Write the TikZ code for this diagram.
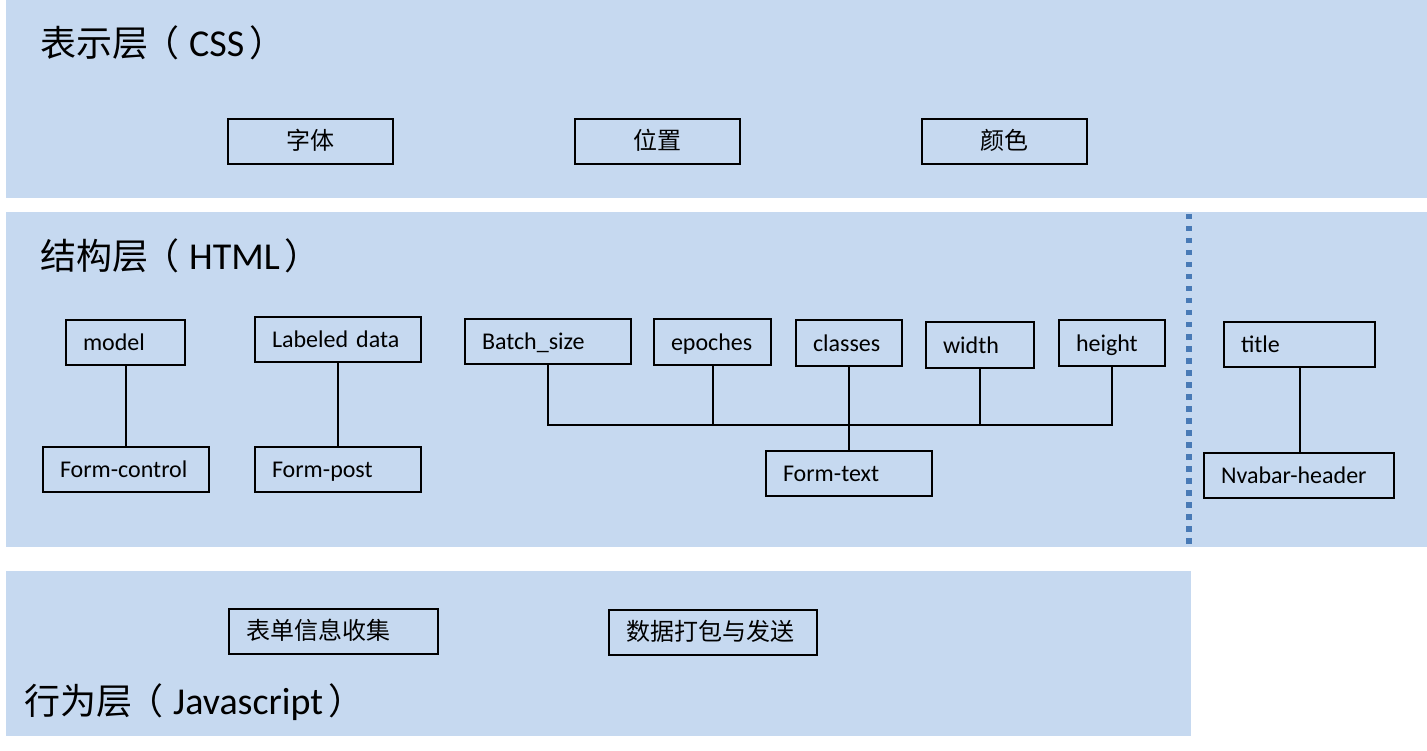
\documentclass[tikz,border=0pt]{standalone}
\usepackage{fontspec}
\setmainfont{Carlito}
\newfontfamily\cjk{Noto Sans CJK SC}
\definecolor{panelblue}{RGB}{198,217,240}
\definecolor{dotblue}{RGB}{72,122,182}
\newcommand{\lpar}{\hspace{-5pt}{\cjk （}\hspace{10pt}}
\newcommand{\rpar}{\hspace{5pt}{\cjk ）}}
\begin{document}
\begin{tikzpicture}[x=1pt,y=-1pt,
  box/.style={draw=black, line width=2pt, rectangle, inner xsep=17pt, inner ysep=0pt,
    minimum height=45pt, text height=16pt, text depth=0pt, align=left,
    font=\fontsize{24}{28}\selectfont},
  lbox/.style={box, text width=#1},
  cbox/.style={box, minimum width=#1, align=center, inner xsep=0pt},
  conn/.style={draw=black, line width=2pt},
  dotline/.style={draw=dotblue, line width=6pt, dash pattern=on 5.5pt off 6.5pt},
  ttl/.style={anchor=base west, inner sep=0pt, font=\fontsize{36}{40}\selectfont}]
\useasboundingbox (0,0) rectangle (1427,751);
\fill[white] (0,0) rectangle (1427,751);
% panels
\fill[panelblue] (6,0) rectangle (1427,198);
\fill[panelblue] (6,212) rectangle (1427,547);
\fill[panelblue] (6,571) rectangle (1191,736);
% titles
\node[ttl] (t1) at (40,57) {{\cjk 表示层}\lpar{\fontsize{38}{40}\selectfont CSS}\rpar};
\node[ttl] (t2) at (40,270) {{\cjk 结构层}\lpar{\fontsize{38}{40}\selectfont HTML}\rpar};
\node[ttl] (t3) at (24,714) {{\cjk 行为层}\lpar{\fontsize{38}{40}\selectfont Javascript}\rpar};
% CSS layer
\node[cbox=165pt] (zt) at (310.5,142) {\cjk 字体};
\node[cbox=165pt] (wz) at (657.5,141.5) {\cjk 位置};
\node[cbox=165pt] (ys) at (1004.5,142) {\cjk 颜色};
% HTML layer
\node[lbox=85pt] (model) at (125.5,342.5) {\mbox{model}};
\node[lbox=132pt] (fc) at (126,469) {\mbox{Form-control}};
\node[lbox=132pt] (ld) at (338,339.5) {\mbox{Labeled data}};
\node[lbox=132pt] (fp) at (338,469) {\mbox{Form-post}};
\node[lbox=132pt] (bs) at (548,341.5) {\mbox{Batch\_size}};
\node[lbox=83pt] (ep) at (712.5,342) {\mbox{epoches}};
\node[lbox=72pt] (cl) at (849,343) {\mbox{classes}};
\node[lbox=74pt] (wd) at (980,345) {\mbox{width}};
\node[lbox=72pt] (ht) at (1112,343) {\mbox{height}};
\node[lbox=132pt] (ft) at (849,473) {\mbox{Form-text}};
\node[lbox=117pt] (ti) at (1299.5,344.5) {\mbox{title}};
\node[lbox=156pt] (nh) at (1299,475) {\mbox{Nvabar-header}};
% JS layer
\node[lbox=175pt] (js1) at (333.5,631) {\mbox{\cjk 表单信息收集}};
\node[lbox=174pt] (js2) at (713,632) {\mbox{\cjk 数据打包与发送}};
% connectors
\draw[conn] (model.south) -- (model.south |- fc.north);
\draw[conn] (ld.south) -- (ld.south |- fp.north);
\draw[conn] (ti.south) -- (ti.south |- nh.north);
\coordinate (bus) at (849,425);
\draw[conn] (bs.south) |- (bus) -| (ht.south);
\draw[conn] (ep.south) -- (ep.south |- bus);
\draw[conn] (cl.south) -- (bus);
\draw[conn] (wd.south) -- (wd.south |- bus);
\draw[conn] (bus) -- (ft.north);
% dotted separator
\coordinate (dtop) at (1189,214);
\coordinate (dbot) at (1189,546);
\draw[dotline] (dtop) -- (dbot);
\end{tikzpicture}
\end{document}
